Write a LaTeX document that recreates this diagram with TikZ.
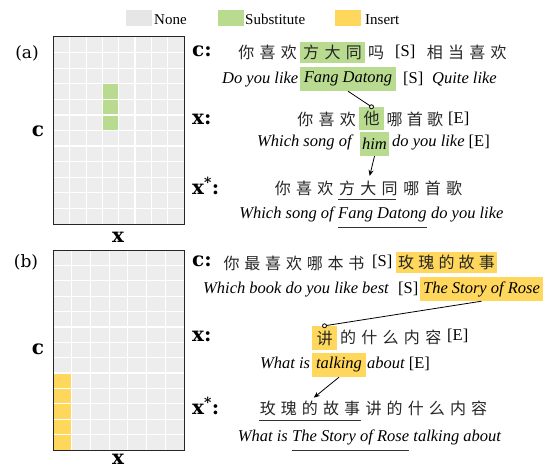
\documentclass[tikz,border=0pt]{standalone}
\usepackage{fontspec}
\setmainfont{Liberation Serif}
\newfontfamily\cjkf{Noto Sans CJK SC}
\newfontfamily\labf{DejaVu Serif}
\usetikzlibrary{arrows.meta}
\definecolor{cellgray}{RGB}{237,237,237}
\definecolor{legray}{RGB}{230,230,230}
\definecolor{subgreen}{RGB}{184,219,143}
\definecolor{insyellow}{RGB}{255,215,92}
\newlength\cjp
\setlength\cjp{21.3pt}
\def\cjsp#1{\cjspi#1\relax}
\def\cjspi#1{\ifx\relax#1\else\makebox[\cjp]{#1}\expandafter\cjspi\fi}
\tikzset{
  en/.style={font=\fontsize{16.5}{18}\selectfont\itshape, inner sep=0pt, text height=11pt, text depth=4pt, anchor=west},
  rm/.style={font=\fontsize{16.5}{18}\selectfont, inner sep=0pt, text height=11pt, text depth=4pt, anchor=west},
  cj/.style={font=\fontsize{16}{18}\cjkf, text=black!85, inner sep=0pt, text height=13pt, text depth=1pt, anchor=west},
  lab/.style={font=\fontsize{20}{22}\labf\bfseries, inner sep=0pt, anchor=west},
  panel/.style={font=\fontsize{17}{20}\labf, inner sep=0pt},
  leg/.style={font=\fontsize{15}{17}\selectfont, inner sep=0pt, anchor=base west},
  legsq/.style={minimum width=26pt, minimum height=16pt, inner sep=0pt},
  hl/.style={inner sep=0pt, anchor=center},
  subs/.style={hl, fill=subgreen},
  ins/.style={hl, fill=insyellow},
  link/.style={draw=black, line width=0.8pt},
  arr/.style={draw=black, line width=0.8pt, -{Stealth[length=6pt,width=5pt]}, shorten >=5pt},
  uline/.style={draw=black!80, line width=1.2pt},
  gridline/.style={draw=white, line width=1.2pt},
  border/.style={draw=black!85, line width=1pt},
}
\begin{document}
\begin{tikzpicture}[x=1pt,y=-1pt]
\useasboundingbox (0,0) rectangle (545,470);

% legend
\node[legsq, fill=legray] (lgn) at (139,18) {};
\node[leg] (lgnt) at (154,25) {None};
\node[legsq, fill=subgreen] (lgs) at (231,18) {};
\node[leg] (lgst) at (245,25) {Substitute};
\node[legsq, fill=insyellow] (lgi) at (348,18) {};
\node[leg] (lgit) at (365,25) {Insert};

% grid (a)
\fill[cellgray] (53.5,37) rectangle (184,224);
\fill[subgreen] (53.5+3*16.3125,37+3*15.583) rectangle (53.5+4*16.3125,37+6*15.583);
\foreach \i in {1,...,7} \draw[gridline] (53.5+\i*16.3125,37) -- (53.5+\i*16.3125,224);
\foreach \j in {1,...,11} \draw[gridline] (53.5,37+\j*15.583) -- (184,37+\j*15.583);
\draw[border] (53.5,37) rectangle (184,224);
\node[panel] (pa) at (27,53) {(a)};
\node[lab, anchor=center] (gca) at (38,131) {c};
\node[lab, anchor=center] (gxa) at (118,237) {x};

% grid (b)
\fill[cellgray] (53,250) rectangle (184,450);
\fill[insyellow] (53,250+8*15.385) rectangle (53+18.714,450);
\foreach \i in {1,...,6} \draw[gridline] (53+\i*18.714,250) -- (53+\i*18.714,450);
\foreach \j in {1,...,12} \draw[gridline] (53,250+\j*15.385) -- (184,250+\j*15.385);
\draw[border] (53,250) rectangle (184,450);
\node[panel] (pb) at (26,262) {(b)};
\node[lab, anchor=center] (gcb) at (38,349) {c};
\node[lab, anchor=center] (gxb) at (118,459.5) {x};

% ---------- (a) text ----------
\node[lab] (lca) at (192,51) {c:};
\node[lab] (lxa) at (192,119) {x:};
\node[lab] (lxsa) at (192,186) {x\textsuperscript{*}:};

\node[subs, minimum width=65pt, minimum height=21pt] (ca2) at (332.5,52.5) {\fontsize{16}{18}\cjkf\color{black!85}\cjsp{方大同}};
\node[cj, anchor=east] (ca1) at (ca2.west |- 0,53) {\cjsp{你喜欢}};
\node[cj] (ca3) at (ca2.east |- 0,53) {\cjsp{吗}};
\node[rm] (ca4) at (395,53) {[S]};
\node[cj] (ca5) at (424,53) {\cjsp{相当喜欢}};

\node[subs, minimum width=96pt, minimum height=24pt] (cea2) at (348,79) {\fontsize{16.5}{18}\selectfont\itshape Fang Datong};
\node[en] (cea1) at (222,80) {Do you like};
\node[rm] (cea3) at (403,80) {[S]};
\node[en] (cea4) at (432,80) {Quite like};

\node[subs, minimum width=25pt, minimum height=23pt] (xa2) at (371.5,118.5) {\fontsize{16}{18}\cjkf\color{black!85}他};
\node[cj, anchor=east] (xa1) at (xa2.west |- 0,120) {\cjsp{你喜欢}};
\node[cj] (xa3) at (xa2.east |- 0,120) {\setlength\cjp{20.3pt}\cjsp{哪首歌}};
\node[rm] (xa4) at (448,120) {[E]};

\node[subs, minimum width=29pt, minimum height=24pt] (xea2) at (374.5,144) {\fontsize{16.5}{18}\selectfont\itshape him};
\node[en] (xea1) at (257,143) {Which song of};
\node[en] (xea3) at (392,143) {do you like \upshape[E]};

\node[cj] (xsa1) at (272,188) {\cjsp{你喜欢}};
\node[cj] (xsa2) at (xsa1.east) {\cjsp{方大同}};
\node[cj] (xsa3) at (xsa2.east) {\cjsp{哪首歌}};
\draw[uline] ([xshift=2pt,yshift=-4pt]xsa2.south west) -- ([xshift=-5pt,yshift=-4pt]xsa2.south east);

\node[en] (xsea2) at (338,215) {Fang Datong};
\node[en, anchor=east] (xsea1) at ([xshift=-4pt]xsea2.west) {Which song of};
\node[en] (xsea3) at ([xshift=4pt]xsea2.east) {do you like};
\draw[uline] ([yshift=-4.5pt]xsea2.south west) -- ([yshift=-4.5pt]xsea2.south east);

\draw[link] (cea2.south) -- (xa2.north);
\draw[link, fill=white] (xa2.north) circle (2pt);
\draw[arr] (xea2.south) -- (xsa2.north);

% ---------- (b) text ----------
\node[lab] (lcb) at (192,261) {c:};
\node[lab] (lxb) at (192,336) {x:};
\node[lab] (lxsb) at (192,406) {x\textsuperscript{*}:};

\node[cj] (cb1) at (221,263) {\setlength\cjp{20.8pt}\cjsp{你最喜欢哪本书}};
\node[rm] (cb2) at (372,263) {[S]};
\node[ins, minimum width=101pt, minimum height=21pt] (cb3) at (446.5,262.5) {\fontsize{16}{18}\cjkf\color{black!85}\setlength\cjp{20.2pt}\cjsp{玫瑰的故事}};

\node[en] (ceb1) at (203,290) {Which book do you like best};
\node[rm] (ceb2) at (398,290) {[S]};
\node[ins, minimum width=123pt, minimum height=24pt] (ceb3) at (481.5,289) {\fontsize{16.5}{18}\selectfont\itshape The Story of Rose};

\node[ins, minimum width=25pt, minimum height=24pt] (xb1) at (324.5,338) {\fontsize{16}{18}\cjkf\color{black!85}讲};
\node[cj] (xb2) at (xb1.east |- 0,337) {\cjsp{的什么内容}};
\node[rm] (xb3) at (447,337) {[E]};

\node[ins, minimum width=54pt, minimum height=24pt] (xeb2) at (339,365) {\fontsize{16.5}{18}\selectfont\itshape talking};
\node[en] (xeb1) at (260,365) {What is};
\node[en] (xeb3) at (367,365) {about \upshape[E]};

\node[cj] (xsb1) at (257,408) {\setlength\cjp{21.1pt}\cjsp{玫瑰的故事}};
\node[cj] (xsb2) at (xsb1.east) {\setlength\cjp{21.1pt}\cjsp{讲的什么内容}};
\draw[uline] ([xshift=2pt,yshift=-5pt]xsb1.south west) -- ([xshift=-2pt,yshift=-5pt]xsb1.south east);

\node[en] (xseb2) at (292,438) {The Story of Rose};
\node[en, anchor=east] (xseb1) at ([xshift=-4pt]xseb2.west) {What is};
\node[en] (xseb3) at ([xshift=4pt]xseb2.east) {talking about};
\draw[uline] ([yshift=-4.5pt]xseb2.south west) -- ([yshift=-4.5pt]xseb2.south east);

\draw[link] (ceb3.south) -- (xb1.north);
\draw[link, fill=white] (xb1.north) circle (2pt);
\draw[arr] (xeb2.south) -- (xsb1.north);
\end{tikzpicture}
\end{document}
